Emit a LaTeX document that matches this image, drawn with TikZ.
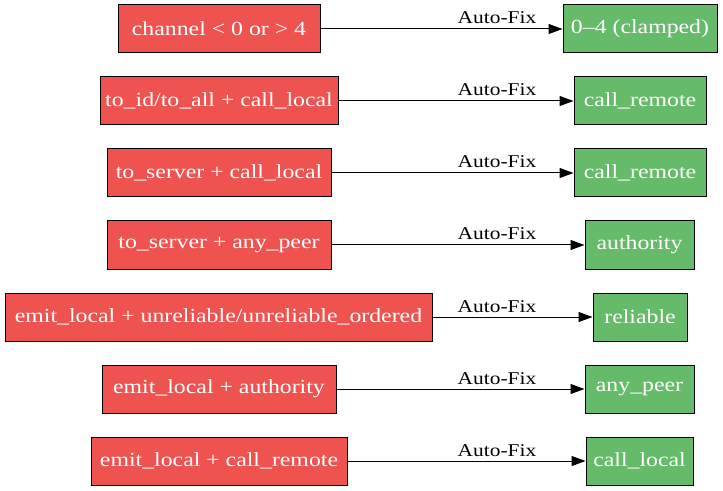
\documentclass[tikz,border=0pt]{standalone}
\usepackage{fontspec}
\setmainfont{Liberation Serif}[FakeStretch=1.19]
\usetikzlibrary{arrows.meta}
\definecolor{errred}{HTML}{EF5350}
\definecolor{fixgreen}{HTML}{66BB6A}
\tikzset{
  box/.style={draw=black, line width=0.75pt, text=white, inner sep=0pt,
    minimum height=36pt, font=\fontsize{15pt}{18pt}\selectfont},
  bad/.style={box, fill=errred},
  good/.style={box, fill=fixgreen},
  fix/.style={draw=black, line width=0.75pt, -{Triangle[length=10.5pt,width=7.5pt]}},
  fixlabel/.style={anchor=base, inner sep=0pt, font=\fontsize{13.5pt}{16pt}\selectfont}
}
\begin{document}
\begin{tikzpicture}[x=0.75pt,y=-0.75pt]
\useasboundingbox (0,0) rectangle (723,491);
% row 1
\node[bad, minimum width=151.5pt] (r1) at (219,29) {channel < 0 or > 4};
\node[good, minimum width=115.5pt] (g1) at (640,29) {0–4 (clamped)};
% row 2
\node[bad, minimum width=178.5pt] (r2) at (219,101) {to\_id/to\_all + call\_local};
\node[good, minimum width=99pt] (g2) at (640,101) {call\_remote};
% row 3
\node[bad, minimum width=168pt] (r3) at (219,173) {to\_server + call\_local};
\node[good, minimum width=99pt] (g3) at (640,173) {call\_remote};
% row 4
\node[bad, minimum width=168pt] (r4) at (219,245) {to\_server + any\_peer};
\node[good, minimum width=81.75pt] (g4) at (639.5,245) {authority};
% row 5
\node[bad, minimum width=320.25pt] (r5) at (218.5,317) {emit\_local + unreliable/unreliable\_ordered};
\node[good, minimum width=70.5pt] (g5) at (640,317) {reliable};
% row 6
\node[bad, minimum width=175.5pt] (r6) at (219,389) {emit\_local + authority};
\node[good, minimum width=81.75pt] (g6) at (639.5,389) {any\_peer};
% row 7
\node[bad, minimum width=192pt] (r7) at (219,461) {emit\_local + call\_remote};
\node[good, minimum width=80.25pt] (g7) at (639.5,461) {call\_local};
% connectors
\foreach \i/\y in {1/29,2/101,3/173,4/245,5/317,6/389,7/461}{
  \draw[fix] (r\i) -- (g\i);
  \node[fixlabel] (l\i) at (497,\y-5) {Auto-Fix};
}
\end{tikzpicture}
\end{document}
